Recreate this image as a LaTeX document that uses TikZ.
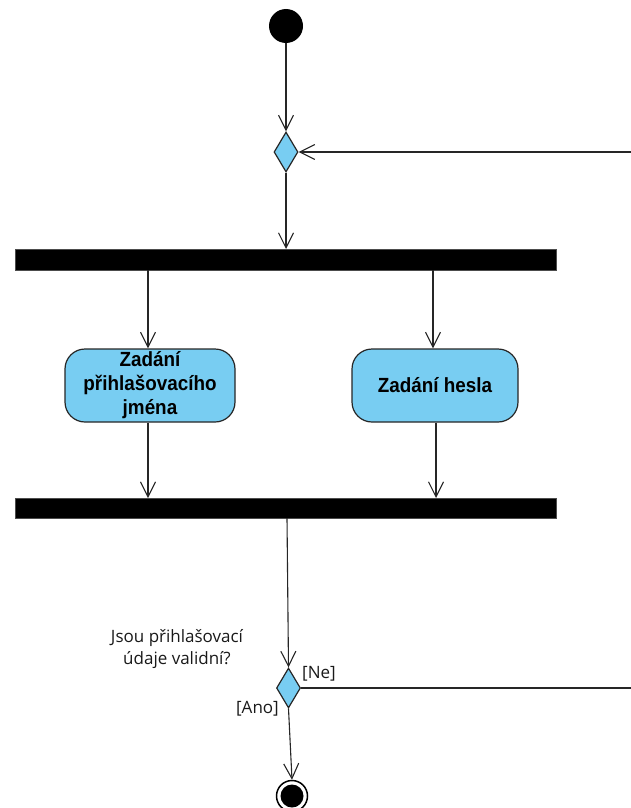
\documentclass[tikz,border=0pt]{standalone}
\usepackage{fontspec}
\setmainfont{Open Sans}
\newfontfamily\actfont[FakeStretch=0.92]{Liberation Sans}
\usetikzlibrary{arrows.meta,shapes.geometric}
\definecolor{actblue}{RGB}{120,205,242}
\begin{document}
\begin{tikzpicture}[x=1pt,y=-1pt,
  flow/.style={draw=black!85,line width=1.1pt,-{Straight Barb[length=15pt,width=15pt,line width=1.1pt]}},
  plain/.style={draw=black!85,line width=1.1pt},
  bar/.style={fill=black,draw=black!70,line width=0.6pt},
  action/.style={draw=black!85,line width=1.2pt,fill=actblue,rounded corners=20pt,
    font=\actfont\bfseries\fontsize{20.5}{24}\selectfont,align=center,inner sep=0pt},
  decision/.style={diamond,draw=black!85,line width=1.2pt,fill=actblue,inner sep=0pt,
    minimum width=24pt,minimum height=40pt,aspect=0.6},
  guard/.style={font=\fontsize{17}{22.5}\selectfont,text=black!90,inner sep=0pt}]
\useasboundingbox (0,0) rectangle (630,808);

% start, merge and fork
\node[circle,fill=black,minimum size=34pt,inner sep=0pt] (start) at (286,26) {};
\node[decision] (merge) at (286,152) {};
\path[bar] (15,249) rectangle (556,270);
\coordinate (forkT) at (286,249);
\coordinate (forkL) at (148,270);
\coordinate (forkR) at (433,270);

% actions
\node[action,minimum width=170pt,minimum height=73pt] (name) at (150,385.5) {Zadání\\přihlašovacího\\jména};
\node[action,minimum width=166pt,minimum height=73pt] (pass) at (435,385.5) {Zadání hesla};

% join
\path[bar] (15,498) rectangle (556,518);
\coordinate (joinL) at (148,498);
\coordinate (joinR) at (436,498);
\coordinate (joinB) at (287,518);

% decision and final node
\node[decision] (check) at (288.5,688) {};
\node[circle,draw=black,line width=1.5pt,minimum size=31pt,inner sep=0pt] (final) at (292,796) {};
\node[circle,fill=black,minimum size=23pt,inner sep=0pt] (finalin) at (292,796) {};

% loop-back corners beyond the right edge
\coordinate (loopT) at (640,152);
\coordinate (loopB) at (640,688);

% connectors
\draw[flow] (start) -- (merge);
\draw[flow] (merge) -- (forkT);
\draw[flow] (forkL) -- (name.north -| forkL);
\draw[flow] (forkR) -- (pass.north -| forkR);
\draw[flow] (name.south -| joinL) -- (joinL);
\draw[flow] (pass.south -| joinR) -- (joinR);
\draw[flow] (joinB) -- (check.north);
\draw[flow] (check.south) -- (final.north);
\draw[plain] (check.east) -- (loopB) -- (loopT);
\draw[flow] (loopT) -- (merge.east);

% labels
\node[guard,align=center] (question) at (177,649) {Jsou přihlašovací\\údaje validní?};
\node[guard,anchor=west] (no) at (302,674) {[Ne]};
\node[guard,anchor=east] (yes) at (279,709) {[Ano]};
\end{tikzpicture}
\end{document}
